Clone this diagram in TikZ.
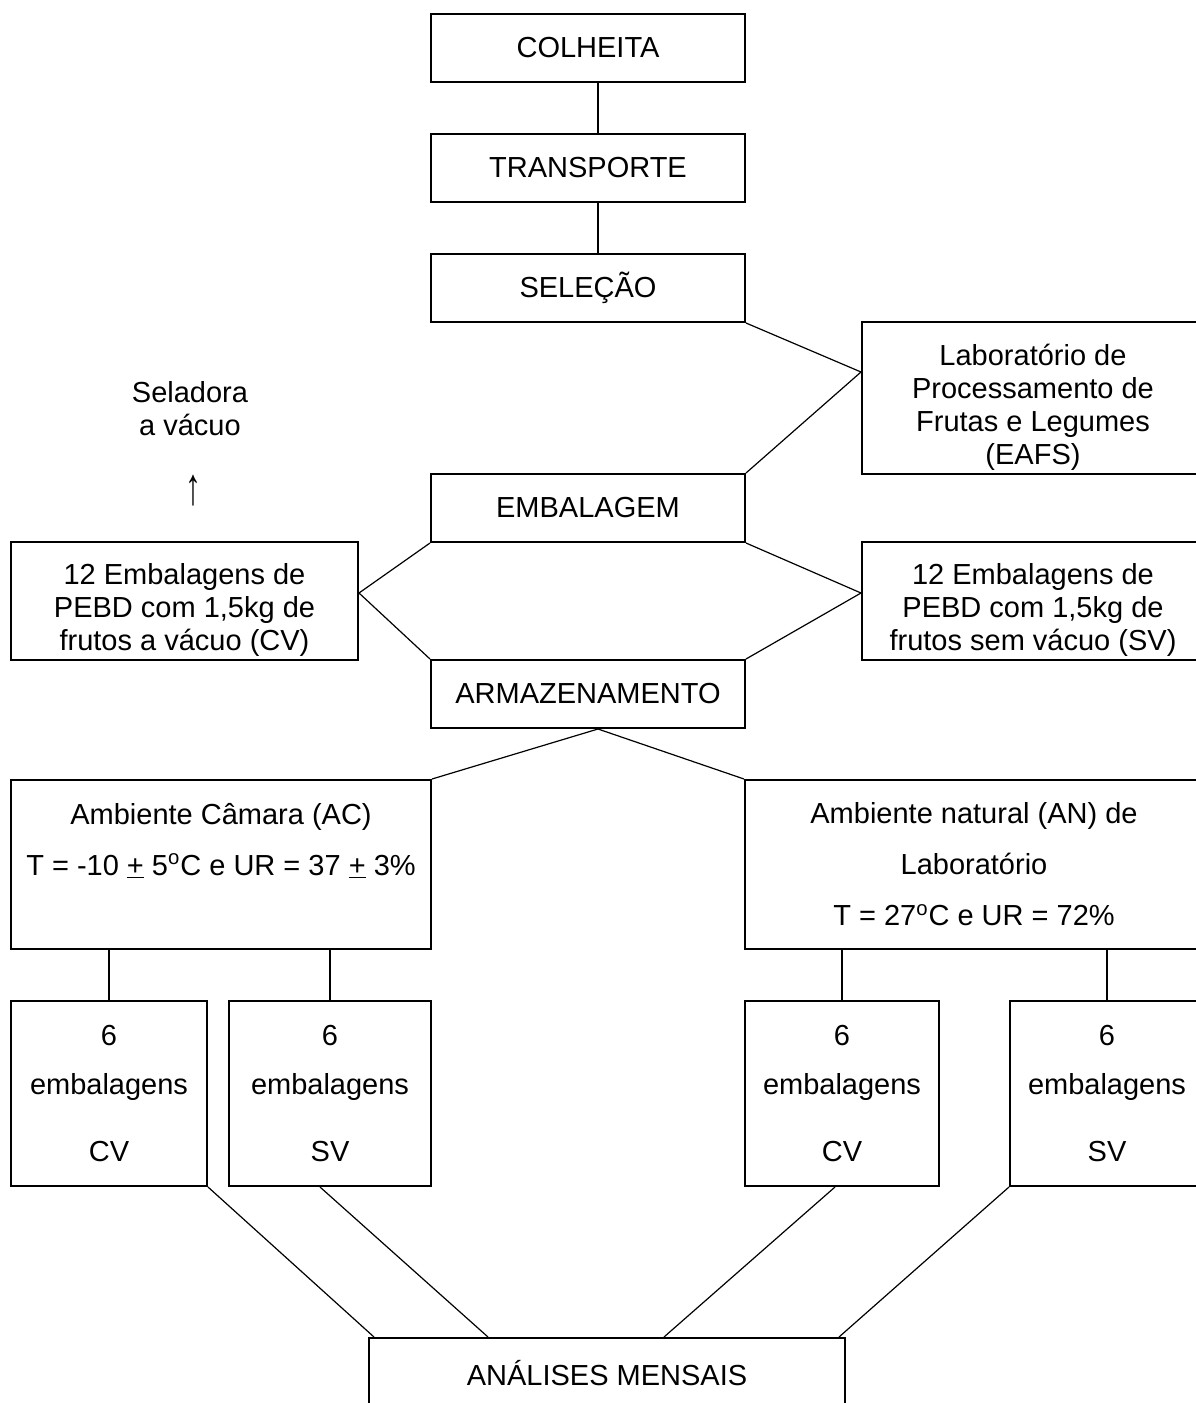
\documentclass[tikz,border=0pt]{standalone}
\usepackage{fontspec}
\setmainfont{Liberation Sans}
\usetikzlibrary{positioning,calc}

\begin{document}
\begin{tikzpicture}[
    x=0.5pt, y=-0.5pt,
    font=\fontsize{14.5pt}{16.5pt}\selectfont,
    box/.style={draw, line width=1pt, inner sep=0pt, align=center},
    stage/.style={box, minimum width=157pt, minimum height=34pt},
    lote/.style={box, minimum height=92.5pt, font=\fontsize{14.5pt}{24.5pt}\selectfont},
    ambiente/.style={box, minimum height=84.5pt, font=\fontsize{14.5pt}{25.5pt}\selectfont},
    legenda/.style={align=center, inner sep=0pt},
    link/.style={line width=0.6pt}
]
    \useasboundingbox (0,0) rectangle (1195,1403);

    % Main sequence
    \node[stage] (colheita) at (588,48) {COLHEITA};
    \node[stage] (transporte) at (588,167.5) {TRANSPORTE};
    \node[stage] (selecao) at (588,288) {SELEÇÃO};
    \node[stage] (embalagem) at (588,508) {EMBALAGEM};
    \node[stage] (armazen) at (588,694) {ARMAZENAMENTO};
    \coordinate (eixo) at (598,0);

    % Laboratory
    \node[box, minimum width=171pt, minimum height=76pt] (lab) at (1033,398) {};
    \node[legenda] (labtxt) at ([yshift=-4.5pt]lab.center) {Laboratório de\\Processamento de\\Frutas e Legumes\\(EAFS)};
    \coordinate (labin) at ($(lab.north west)+(0,51)$);

    % Sealer
    \node[legenda] (seladora) at (190,409) {Seladora\\a vácuo};
    \node[legenda] (seta) at (193,491) {\scalebox{1.1}[1.8]{↑}};

    % Packages
    \node[box, minimum width=173.5pt, minimum height=59pt] (cv) at (184.5,601) {};
    \node[legenda] (cvtxt) at ([yshift=-4.5pt]cv.center) {12 Embalagens de\\PEBD com 1,5kg de\\frutos a vácuo (CV)};
    \node[box, minimum width=171pt, minimum height=59pt] (sv) at (1033,601) {};
    \node[legenda] (svtxt) at ([yshift=-4.5pt]sv.center) {12 Embalagens de\\PEBD com 1,5kg de\\frutos sem vácuo (SV)};
    \coordinate (hexL) at ($(cv.east)+(0,-8)$);
    \coordinate (hexR) at ($(sv.west)+(0,-8)$);

    % Storage
    \node[ambiente, minimum width=210pt] (ac) at (221,864.5) {Ambiente Câmara (AC)\\T = -10 \underline{+} 5\textsuperscript{o}C e UR = 37 \underline{+} 3\%\\\mbox{}};
    \node[ambiente, minimum width=229pt] (an) at (974,864.5) {Ambiente natural (AN) de\\Laboratório\\T = 27\textsuperscript{o}C e UR = 72\%};

    % Lots
    \node[lote, minimum width=98pt] (acCV) at (109,1093.5) {6\\embalagens\\[9pt]CV};
    \node[lote, minimum width=101pt] (acSV) at (330,1093.5) {6\\embalagens\\[9pt]SV};
    \node[lote, minimum width=97pt] (anCV) at (842,1093.5) {6\\embalagens\\[9pt]CV};
    \node[lote, minimum width=97pt] (anSV) at (1107,1093.5) {6\\embalagens\\[9pt]SV};

    \node[box, minimum width=238pt, minimum height=35pt] (analises) at (607,1373) {ANÁLISES MENSAIS};

    % Connections
    \draw[link] (colheita.south -| eixo) -- (transporte.north -| eixo);
    \draw[link] (transporte.south -| eixo) -- (selecao.north -| eixo);
    \draw[link] (selecao.south east) -- (labin) -- (embalagem.north east);
    \draw[link] (embalagem.south west) -- (hexL) -- (armazen.north west);
    \draw[link] (embalagem.south east) -- (hexR) -- (armazen.north east);
    \draw[link] (ac.north east) -- (armazen.south -| eixo) -- (an.north west);
    \foreach \lote/\amb in {acCV/ac, acSV/ac, anCV/an, anSV/an}
        \draw[link] (\lote.north) -- (\lote.north |- \amb.south);

    % Lots to monthly analyses
    \draw[link] (acCV.south east) -- ($(analises.north west)+(6,0)$);
    \draw[link] ($(acSV.south)+(-10,0)$) -- ($(analises.north west)+(120,0)$);
    \draw[link] ($(anCV.south)+(-7,0)$) -- ($(analises.north west)+(296,0)$);
    \draw[link] (anSV.south west) -- ($(analises.north east)+(-7,0)$);
\end{tikzpicture}
\end{document}
